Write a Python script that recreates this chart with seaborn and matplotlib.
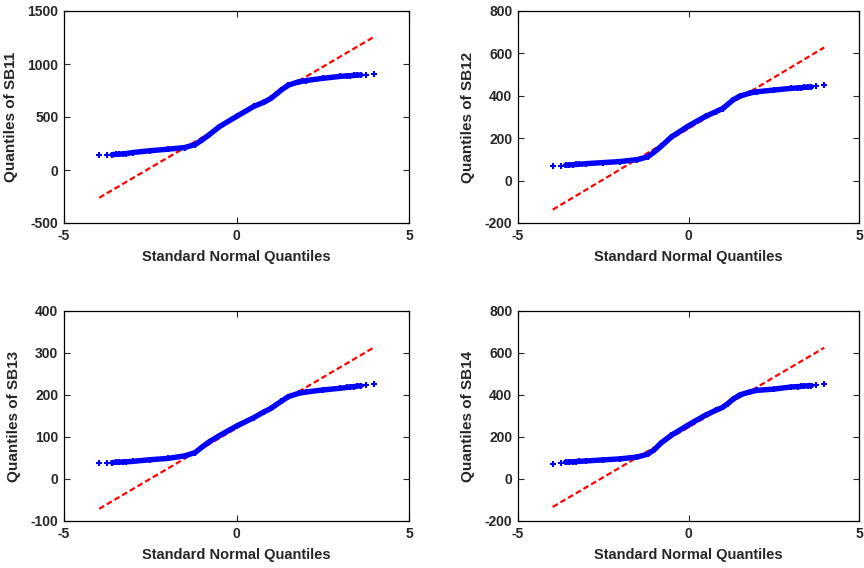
import numpy as np
import pandas as pd
import seaborn as sns
import matplotlib
matplotlib.use("Agg")
import matplotlib.pyplot as plt
from matplotlib import font_manager

# ---- data ----
theoretical_q = [-3.98, -3.74, -3.6, -3.5, -3.4, -3.3, -3.2, -3.0, -2.5, -2.0, -1.5, -1.2, -1.0,
                 -0.8, -0.5, 0.0, 0.5, 0.8, 1.0, 1.15, 1.3, 1.5, 1.8, 2.0, 2.5, 3.0, 3.2, 3.3,
                 3.4, 3.5, 3.6, 3.74, 3.98]

sb11 = [140, 140, 145, 147, 150, 152, 155, 165, 182, 196, 212, 240, 283, 330, 408, 505, 600, 640,
        676, 715, 755, 800, 832, 843, 865, 883, 888, 890, 892, 895, 897, 900, 903]
sb12 = [69, 69, 72, 74, 75, 76, 77, 80, 85, 90, 99, 112, 135, 162, 206, 258, 303, 325, 340, 359,
        380, 398, 413, 419, 427, 435, 437, 438, 440, 441, 442, 445, 452]
sb13 = [38, 38, 39, 40, 40, 40.5, 41, 42, 46, 49, 55, 63, 76, 88, 103, 126, 146, 160, 168, 177,
        185, 196, 204, 207, 212, 216, 218, 219, 220, 221, 222, 223, 226]
sb14 = [73, 77, 80, 81, 82, 83, 84, 86, 91, 96, 105, 118, 140, 172, 209, 258, 304, 327, 341, 359,
        379, 400, 415, 422, 428, 438, 440, 441, 443, 444, 445, 446, 452]

ref_x = [-3.98, 3.98]
ref_sb11 = [-262, 1255]
ref_sb12 = [-137, 628]
ref_sb13 = [-71, 313]
ref_sb14 = [-133, 625]

names = ["SB11", "SB12", "SB13", "SB14"]
series = [sb11, sb12, sb13, sb14]
refs = [ref_sb11, ref_sb12, ref_sb13, ref_sb14]
ylims = [(-500, 1500), (-200, 800), (-100, 400), (-200, 800)]
yticks = [[-500, 0, 500, 1000, 1500], [-200, 0, 200, 400, 600, 800],
          [-100, 0, 100, 200, 300, 400], [-200, 0, 200, 400, 600, 800]]
xticks = [-5, 0, 5]

# ---- style ----
sns.set_style("ticks")
avail = {f.name for f in font_manager.fontManager.ttflist}
narrow = "Liberation Sans Narrow" if "Liberation Sans Narrow" in avail else "Liberation Sans"
plt.rcParams["font.family"] = ["Liberation Sans", "DejaVu Sans"]
plt.rcParams["axes.unicode_minus"] = False

fig = plt.figure(figsize=(8.64, 5.68), dpi=100)
W, H = 864, 568
boxes = [(64, 11, 409, 223), (518, 11, 859, 223), (64, 311, 409, 521), (518, 311, 859, 521)]

for i, (name, ys, ry, yl, yt, box) in enumerate(zip(names, series, refs, ylims, yticks, boxes)):
    l, t, r, b = box
    ax = fig.add_axes([l / W, 1 - b / H, (r - l) / W, (b - t) / H])
    df = pd.DataFrame({"x": theoretical_q, "y": ys})
    # reference line (underneath the data band)
    sns.lineplot(x=ref_x, y=ry, ax=ax, color="red", lw=1.6, linestyle="--", zorder=1)
    ax.lines[-1].set_dashes([2.6, 1.4])
    # dense band of points
    sns.lineplot(data=df.iloc[2:-2], x="x", y="y", ax=ax, color="blue", lw=3.9,
                 sort=False, estimator=None, zorder=2)
    sns.scatterplot(data=df, x="x", y="y", ax=ax, color="blue", marker="+", s=20,
                    linewidth=1.5, zorder=3)
    ax.set_xlim(-5, 5)
    ax.set_ylim(*yl)
    ax.set_xticks(xticks)
    ax.set_yticks(yt)
    for s in ax.spines.values():
        s.set_visible(True)
        s.set_linewidth(0.9)
        s.set_color("black")
    ax.tick_params(direction="in", top=True, right=True, length=4, width=0.8, pad=4,
                   labelsize=10)
    for lab in ax.get_xticklabels() + ax.get_yticklabels():
        lab.set_fontweight("bold")
        lab.set_family([narrow, "DejaVu Sans"])
    ax.set_xlabel("Standard Normal Quantiles", fontsize=10.5, fontweight="bold",
                  family=[narrow, "DejaVu Sans"], labelpad=5)
    ax.set_ylabel("Quantiles of " + name, fontsize=11, fontweight="bold", labelpad=7)
    ax.grid(False)

fig.savefig("out.png", dpi=100)
